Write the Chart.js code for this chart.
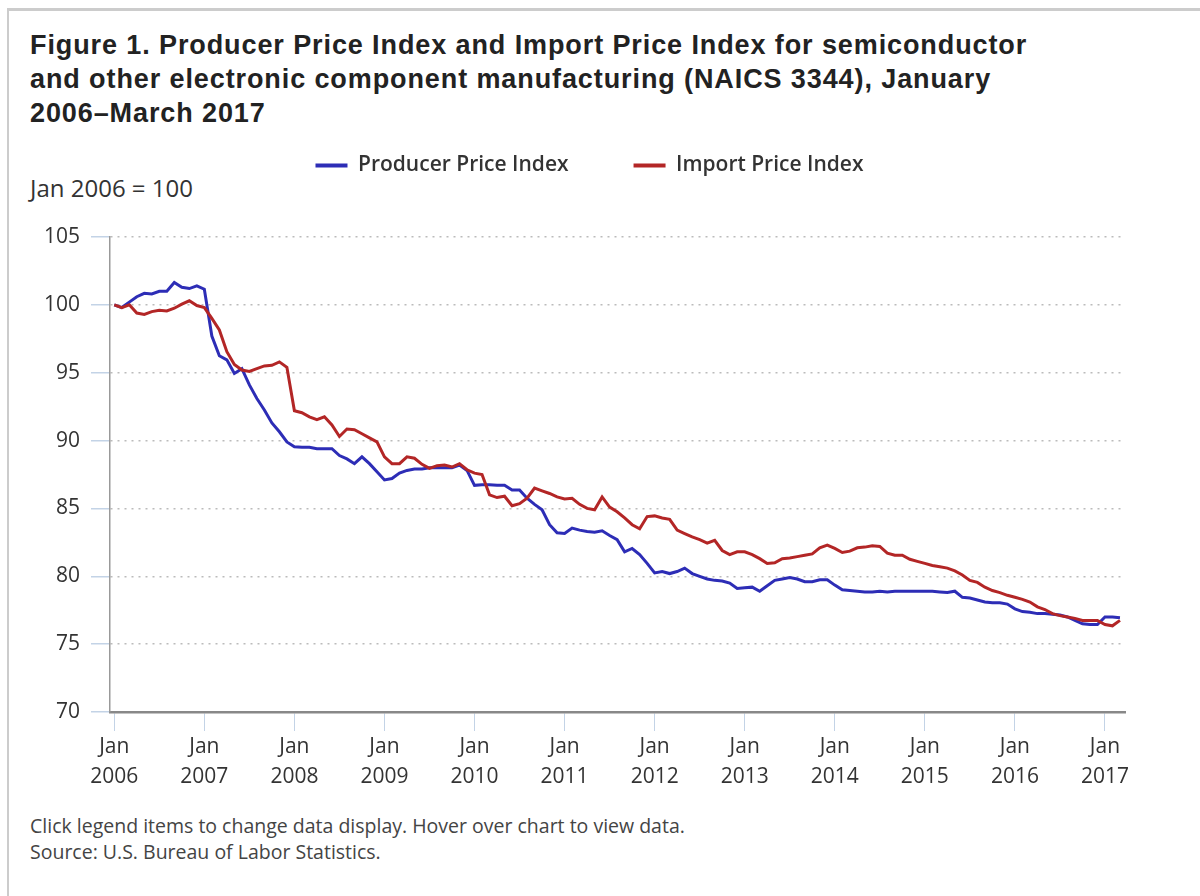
<!DOCTYPE html>
<html lang="en">
<head>
<meta charset="utf-8">
<title>PPI and Import Price Index, NAICS 3344</title>
<script src="https://cdn.jsdelivr.net/npm/chart.js@4.4.1/dist/chart.umd.min.js"></script>
<style>
  body { margin: 0; background: #fff; font-family: "Open Sans", sans-serif; }
  #frame { position: absolute; left: 7px; top: 8px; width: 1300px; height: 1000px;
           border-top: 3px solid #ccc; border-left: 2px solid #ccc; }
  h1 { position: absolute; left: 30px; top: 28px; margin: 0; color: #222; letter-spacing: 0.9px;
       font: bold 27px/34px "Liberation Sans", Arial, sans-serif; white-space: nowrap; }
  #base { position: absolute; left: 30px; top: 173px; font-size: 24px; line-height: 30px; color: #333; }
  #wrap { position: absolute; left: 0; top: 90px; width: 1140px; height: 710px; }
  #notes { position: absolute; left: 30px; top: 813px; font-size: 19.5px; line-height: 26px; color: #444; }
</style>
</head>
<body>
<div id="frame"></div>
<h1>Figure 1. Producer Price Index and Import Price Index for semiconductor<br>and other electronic component manufacturing (NAICS 3344), January<br>2006–March 2017</h1>
<div id="base">Jan 2006 = 100</div>
<div id="wrap"><canvas id="chart"></canvas></div>
<div id="notes">Click legend items to change data display. Hover over chart to view data.<br>Source: U.S. Bureau of Labor Statistics.</div>

<script>
// monthly, Jan 2006 - Mar 2017
var startYear = 2006;
var tickYears = [2006, 2007, 2008, 2009, 2010, 2011, 2012, 2013, 2014, 2015, 2016, 2017];
var yTicks = [70, 75, 80, 85, 90, 95, 100, 105];

var ppi = [
  100.0, 99.8, 100.2, 100.6, 100.85, 100.8, 101.0, 101.0, 101.65, 101.3, 101.2, 101.4,
  101.15, 97.7, 96.25, 95.95, 94.95, 95.3, 94.1, 93.1, 92.25, 91.3, 90.65, 89.9,
  89.55, 89.5, 89.5, 89.4, 89.4, 89.4, 88.9, 88.65, 88.3, 88.8, 88.3, 87.7,
  87.1, 87.2, 87.6, 87.8, 87.9, 87.9, 88.0, 88.0, 88.0, 88.0, 88.2, 87.8,
  86.7, 86.75, 86.75, 86.7, 86.7, 86.35, 86.35, 85.75, 85.3, 84.9, 83.8, 83.2,
  83.15, 83.55, 83.4, 83.3, 83.25, 83.35, 83.0, 82.7, 81.8, 82.05, 81.6, 80.95,
  80.25, 80.35, 80.2, 80.35, 80.6, 80.2, 80.0, 79.8, 79.7, 79.65, 79.5, 79.1,
  79.15, 79.2, 78.9, 79.3, 79.7, 79.8, 79.9, 79.8, 79.6, 79.6, 79.75, 79.75,
  79.35, 79.0, 78.95, 78.9, 78.85, 78.85, 78.9, 78.85, 78.9, 78.9, 78.9, 78.9,
  78.9, 78.9, 78.85, 78.8, 78.9, 78.45, 78.4, 78.25, 78.1, 78.05, 78.05, 77.95,
  77.6, 77.4, 77.35, 77.25, 77.25, 77.2, 77.15, 77.0, 76.75, 76.5, 76.45, 76.45,
  77.0, 77.0, 76.95
];

var mpi = [
  100.0, 99.8, 100.0, 99.4, 99.3, 99.5, 99.6, 99.55, 99.75, 100.05, 100.3, 99.95,
  99.8, 99.0, 98.15, 96.55, 95.6, 95.2, 95.1, 95.3, 95.5, 95.55, 95.8, 95.4,
  92.2, 92.05, 91.75, 91.55, 91.75, 91.15, 90.3, 90.85, 90.8, 90.5, 90.2, 89.9,
  88.8, 88.3, 88.3, 88.8, 88.7, 88.25, 87.95, 88.15, 88.2, 88.05, 88.3, 87.85,
  87.6, 87.5, 86.0, 85.8, 85.9, 85.2, 85.35, 85.75, 86.5, 86.3, 86.1, 85.85,
  85.7, 85.75, 85.3, 85.0, 84.9, 85.85, 85.1, 84.75, 84.3, 83.8, 83.5, 84.4,
  84.45, 84.3, 84.2, 83.4, 83.15, 82.9, 82.7, 82.45, 82.65, 81.9, 81.6, 81.8,
  81.8, 81.6, 81.3, 80.95, 81.0, 81.3, 81.35, 81.45, 81.55, 81.65, 82.1, 82.3,
  82.05, 81.75, 81.85, 82.1, 82.15, 82.25, 82.2, 81.7, 81.55, 81.55, 81.25, 81.1,
  80.95, 80.8, 80.7, 80.6, 80.4, 80.1, 79.7, 79.55, 79.2, 78.95, 78.8, 78.6,
  78.45, 78.3, 78.1, 77.75, 77.55, 77.25, 77.1, 77.0, 76.9, 76.75, 76.75, 76.75,
  76.45, 76.35, 76.75
];

function toPoints(values) {
  var pts = [];
  for (var i = 0; i < values.length; i++) {
    pts.push({ x: i, y: values[i] });
  }
  return pts;
}

var tickBlue = '#c3d3e6';
var labelFont = { family: 'Open Sans', size: 21 };

// legend is one box; stretch it so the plot starts where the original does,
// and nudge it right a bit (original centres it on the whole panel)
var legendTweak = {
  id: 'legendTweak',
  beforeInit: function(chart) {
    var lg = chart.legend;
    var fit = lg.fit;
    lg.fit = function() {
      fit.call(this);
      this.height = 147;
    };
    var draw = lg.draw;
    lg.draw = function(area) {
      this.ctx.save();
      this.ctx.translate(27, 0);
      draw.call(this, area);
      this.ctx.restore();
    };
  }
};

var ctx = document.getElementById('chart').getContext('2d');
var chart = new Chart(ctx, {
  type: 'line',
  data: {
    datasets: [{
      label: 'Producer Price Index',
      data: toPoints(ppi),
      borderColor: '#2d2db6',
      backgroundColor: '#2d2db6',
      borderWidth: 3,
      pointRadius: 0,
      tension: 0,
      order: 2
    }, {
      label: 'Import Price Index',
      data: toPoints(mpi),
      borderColor: '#b32626',
      backgroundColor: '#b32626',
      borderWidth: 3,
      pointRadius: 0,
      tension: 0,
      order: 1
    }]
  },
  plugins: [legendTweak],
  options: {
    responsive: true,
    maintainAspectRatio: false,
    animation: false,
    layout: { padding: { left: 0, right: 15, top: 0, bottom: 0 } },
    plugins: {
      legend: {
        position: 'top',
        labels: {
          font: { family: 'Open Sans', size: 21, weight: '600' },
          color: '#333',
          boxWidth: 32,
          boxHeight: 4,
          padding: 65,
          generateLabels: function(chart) {
            return chart.data.datasets.map(function(ds, i) {
              return {
                text: ds.label,
                fillStyle: ds.borderColor,
                strokeStyle: ds.borderColor,
                lineWidth: 0,
                hidden: !chart.isDatasetVisible(i),
                datasetIndex: i,
                fontColor: '#333'
              };
            });
          }
        }
      },
      tooltip: { mode: 'index', intersect: false }
    },
    scales: {
      x: {
        type: 'linear',
        min: -0.57,
        max: 134.67,
        afterFit: function(scale) { scale.height = 88; },
        afterBuildTicks: function(scale) {
          scale.ticks = tickYears.map(function(y) { return { value: (y - startYear) * 12 }; });
        },
        ticks: {
          autoSkip: false,
          maxRotation: 0,
          padding: 1,
          color: '#333',
          font: { family: 'Open Sans', size: 21, lineHeight: '30px' },
          callback: function(value) {
            return ['Jan', String(startYear + Math.round(value / 12))];
          }
        },
        grid: {
          drawOnChartArea: false,
          drawTicks: true,
          tickLength: 19,
          tickColor: tickBlue,
          lineWidth: 1
        },
        border: { display: true, color: '#888', width: 2.5 }
      },
      y: {
        min: 70,
        max: 105,
        afterFit: function(scale) { scale.width = 110; },
        afterBuildTicks: function(scale) {
          scale.ticks = yTicks.map(function(v) { return { value: v }; });
        },
        ticks: {
          padding: 11,
          color: '#333',
          font: labelFont
        },
        grid: {
          color: '#bbb',
          lineWidth: 1.5,
          drawTicks: true,
          tickLength: 19,
          tickColor: tickBlue,
          tickWidth: 1.5,
          tickBorderDash: []
        },
        border: { display: true, color: '#999', width: 1.5, dash: [2, 5] }
      }
    }
  }
});
</script>
</body>
</html>
